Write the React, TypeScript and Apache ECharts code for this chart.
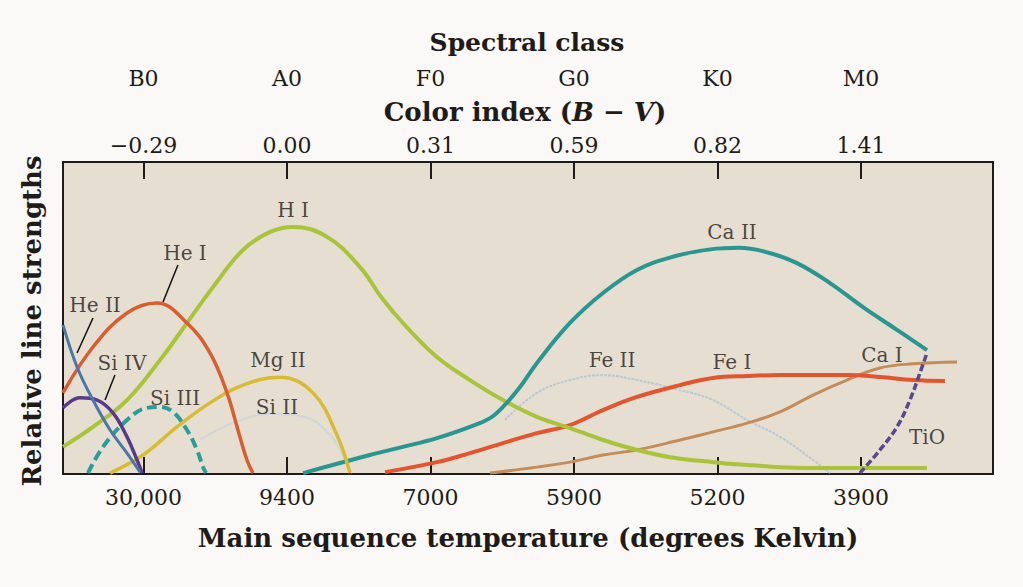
import React, { useEffect, useRef } from "react";
import * as echarts from "echarts";

// Axis tick labels (tick positions 0..5 = B0..M0)
const TICK_POS = [0, 1, 2, 3, 4, 5];
const SPECTRAL = ["B0", "A0", "F0", "G0", "K0", "M0"];
const COLOR_INDEX = ["\u22120.29", "0.00", "0.31", "0.59", "0.82", "1.41"];
const TEMPS = ["30,000", "9400", "7000", "5900", "5200", "3900"];

// Curves: [spectral position, relative strength 0..100]
const HE_II = [[-0.561, 47.8], [-0.463, 34.3], [-0.352, 23.7], [-0.233, 14.1], [-0.115, 6.7], [-0.024, 0.6]];
const HE_I = [[-0.561, 26.0], [-0.352, 40.7], [-0.115, 51.6], [0.094, 54.8], [0.303, 48.4], [0.463, 38.8], [0.582, 26.0], [0.652, 15.1], [0.721, 4.5], [0.763, 0.3]];
const SI_IV = [[-0.561, 21.2], [-0.443, 24.4], [-0.324, 23.7], [-0.213, 19.6], [-0.115, 11.9], [-0.045, 4.5], [-0.01, 0.3]];
const SI_III = [[-0.387, 0.3], [-0.282, 8.7], [-0.115, 17.3], [0.024, 21.2], [0.115, 21.5], [0.206, 19.9], [0.303, 14.1], [0.373, 7.7], [0.415, 2.2], [0.436, 0.3]];
const H_I = [[-0.561, 8.7], [-0.352, 15.1], [-0.115, 23.7], [0.115, 36.5], [0.303, 48.4], [0.484, 59.9], [0.693, 71.8], [0.882, 77.6], [1.042, 79.2], [1.279, 76.0], [1.509, 66.3], [1.66, 56.5], [1.808, 48.4], [2.045, 37.5], [2.275, 30.1], [2.505, 23.7], [2.742, 18.3], [2.972, 14.7], [3.202, 10.9], [3.439, 7.7], [3.669, 5.4], [3.969, 3.8], [4.206, 2.9], [4.436, 2.2], [4.763, 1.9], [5.46, 1.9]];
const MG_II = [[-0.233, 0.3], [-0.003, 6.1], [0.233, 15.1], [0.463, 22.8], [0.693, 28.5], [0.951, 31.0], [1.181, 26.0], [1.348, 12.5], [1.439, 0.3]];
const SI_II = [[0.394, 10.9], [0.603, 16.0], [0.882, 19.2], [1.125, 18.3], [1.3, 12.5], [1.404, 4.5], [1.453, 0.3]];
const CA_II = [[1.112, 0.3], [1.578, 6.1], [1.808, 8.7], [2.045, 11.5], [2.275, 15.1], [2.415, 17.9], [2.505, 21.5], [2.624, 27.9], [2.742, 35.6], [2.972, 48.4], [3.202, 58.0], [3.439, 65.4], [3.7, 69.8], [3.95, 72.0], [4.15, 72.5], [4.35, 71.0], [4.554, 67.6], [4.784, 61.2], [5.014, 53.5], [5.251, 46.2], [5.46, 39.7]];
const FE_II = [[2.519, 17.3], [2.742, 26.0], [2.972, 30.1], [3.202, 31.7], [3.439, 30.1], [3.739, 26.9], [3.969, 23.7], [4.206, 17.3], [4.436, 11.9], [4.666, 4.5], [4.784, 0.3]];
const FE_I = [[1.683, 0.6], [2.045, 3.8], [2.275, 6.7], [2.505, 9.9], [2.742, 13.1], [2.972, 15.7], [3.202, 20.5], [3.439, 24.7], [3.739, 28.5], [3.969, 30.8], [4.206, 31.4], [4.436, 31.7], [4.902, 31.7], [5.132, 31.1], [5.362, 30.1], [5.585, 29.8]];
const CA_I = [[2.415, 0.3], [2.742, 2.2], [2.972, 3.8], [3.202, 6.1], [3.439, 7.7], [3.739, 10.9], [3.969, 13.5], [4.206, 16.3], [4.436, 19.9], [4.666, 25.3], [4.902, 30.1], [5.132, 34.0], [5.362, 35.3], [5.669, 35.9]];
const TIO = [[4.993, 0.3], [5.132, 7.7], [5.251, 15.1], [5.341, 23.7], [5.411, 32.4], [5.46, 38.8]];

// Curve labels
const LABEL_NAMES = ["H I", "He I", "He II", "Si IV", "Si III", "Mg II", "Si II", "Fe II", "Ca II", "Fe I", "Ca I", "TiO"];
const LABEL_X = [1.042, 0.289, -0.338, -0.15, 0.22, 0.937, 0.93, 3.265, 4.101, 4.101, 5.146, 5.46];
const LABEL_Y = [84.6, 70.8, 54.2, 35.6, 24.4, 36.5, 21.5, 36.5, 77.6, 35.9, 38.1, 11.9];

// Arrows: [from, to]
const ARROWS = [
  [[0.24, 67.0], [0.136, 55.1]],
  [[-0.352, 50.0], [-0.463, 38.8]],
  [[-0.199, 31.7], [-0.268, 23.7]],
];

const SERIF = "'DejaVu Serif', 'Liberation Serif', serif";
const INK = "#1f1b18";

function line(name: string, data: number[][], color: string, width: number, type: any = "solid", z = 2) {
  return {
    name,
    type: "line",
    data,
    smooth: 0.4,
    symbol: "none",
    z,
    lineStyle: { color, width, type, cap: "butt" },
    silent: true,
  };
}

export default function App() {
  const ref = useRef<HTMLDivElement>(null);
  useEffect(() => {
    if (!ref.current) return;
    const chart = echarts.init(ref.current, null, { renderer: "svg" });
    const tickLabel = {
      fontFamily: SERIF,
      fontSize: 22,
      color: INK,
    };
    const xBase = { type: "value", min: -0.561, max: 5.92, splitLine: { show: false } };
    chart.setOption({
      animation: false,
      backgroundColor: "#faf9f7",
      grid: {
        left: 63,
        top: 162,
        width: 930,
        height: 312,
        show: true,
        backgroundColor: "#e6ded1",
        borderColor: "#1e1b19",
        borderWidth: 2,
      },
      xAxis: [
        {
          ...xBase,
          position: "bottom",
          axisLine: { show: false },
          axisTick: { show: true, customValues: TICK_POS, inside: true, length: 17, lineStyle: { color: INK, width: 2 } },
          axisLabel: { ...tickLabel, customValues: TICK_POS, margin: 12, formatter: (v: number) => TEMPS[Math.round(v)] },
        },
        {
          ...xBase,
          position: "top",
          axisLine: { show: false },
          axisTick: { show: true, customValues: TICK_POS, inside: true, length: 17, lineStyle: { color: INK, width: 2 } },
          axisLabel: { ...tickLabel, customValues: TICK_POS, margin: 6, formatter: (v: number) => COLOR_INDEX[Math.round(v)] },
        },
        {
          ...xBase,
          position: "top",
          offset: 67,
          axisLine: { show: false },
          axisTick: { show: false },
          axisLabel: { ...tickLabel, customValues: TICK_POS, margin: 6, formatter: (v: number) => SPECTRAL[Math.round(v)] },
        },
      ],
      yAxis: { type: "value", min: 0, max: 100, show: false },
      graphic: [
        {
          type: "text", x: 527, y: 42,
          style: { text: "Spectral class", font: `bold 25px ${SERIF}`, fill: INK, textAlign: "center", textVerticalAlign: "middle" },
        },
        {
          type: "text", x: 525, y: 112,
          style: {
            text: "Color index ({i|B} \u2212 {i|V})",
            font: `bold 26px ${SERIF}`,
            fill: INK, textAlign: "center", textVerticalAlign: "middle",
            rich: { i: { fontFamily: SERIF, fontSize: 26, fontWeight: "bold", fontStyle: "italic", fill: INK } },
          },
        },
        {
          type: "text", x: 528, y: 538,
          style: { text: "Main sequence temperature (degrees Kelvin)", font: `bold 26px ${SERIF}`, fill: INK, textAlign: "center", textVerticalAlign: "middle" },
        },
        {
          type: "text", x: 32, y: 321, rotation: Math.PI / 2,
          style: { text: "Relative line strengths", font: `bold 26px ${SERIF}`, fill: INK, textAlign: "center", textVerticalAlign: "middle" },
        },
      ],
      series: [
        line("Si II", SI_II, "#d3d6da", 2, "solid", 1),
        line("Fe II", FE_II, "#bcc9d6", 2, [3, 1], 1),
        line("Ca I", CA_I, "#c48c58", 3),
        line("Fe I", FE_I, "#e2552e", 4),
        line("H I", H_I, "#a9c43a", 4),
        line("Ca II", CA_II, "#2a9591", 4),
        line("Mg II", MG_II, "#d8bb32", 3.5),
        line("Si III", SI_III, "#2b9c9b", 4, [10, 5]),
        line("He I", HE_I, "#d65f30", 3.5),
        line("Si IV", SI_IV, "#583a88", 3.5),
        line("He II", HE_II, "#4c76a8", 3),
        line("TiO", TIO, "#58488c", 3.5, [7, 3], 3),
        {
          name: "labels",
          type: "scatter",
          symbolSize: 0,
          silent: true,
          z: 5,
          data: LABEL_NAMES.map((n, i) => ({ name: n, value: [LABEL_X[i], LABEL_Y[i]] })),
          label: {
            show: true,
            position: "inside",
            formatter: (p: any) => p.name,
            fontFamily: SERIF,
            fontSize: 20,
            color: INK,
          },
          markLine: {
            silent: true,
            symbol: ["none", "arrow"],
            symbolSize: [0, 9],
            label: { show: false },
            lineStyle: { color: "#111", width: 1.5, type: "solid" },
            data: ARROWS.map((a) => [{ coord: a[0] }, { coord: a[1] }]),
          },
        },
      ],
    });
    return () => chart.dispose();
  }, []);
  return (
    <div
      ref={ref}
      style={{ position: "fixed", left: 0, top: 0, width: 1023, height: 587, background: "#faf9f7" }}
    />
  );
}
